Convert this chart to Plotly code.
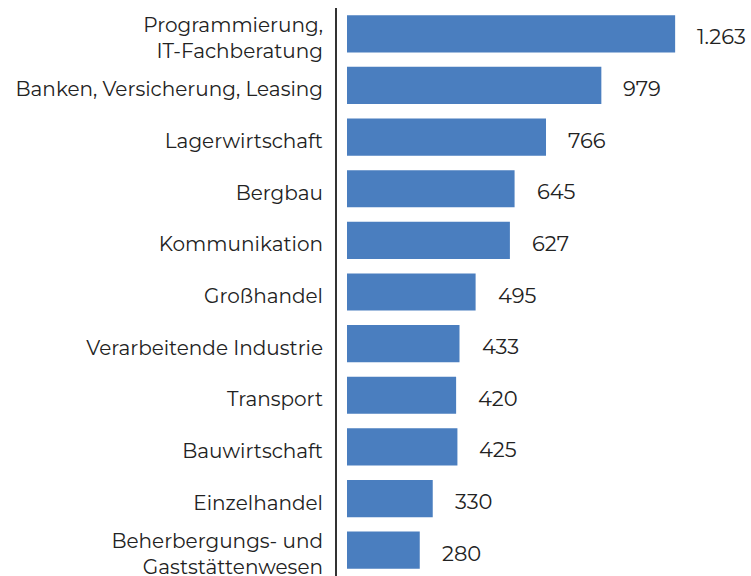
import plotly.graph_objects as go

categories = [
    "Programmierung,<br>IT-Fachberatung",
    "Banken, Versicherung, Leasing",
    "Lagerwirtschaft",
    "Bergbau",
    "Kommunikation",
    "Großhandel",
    "Verarbeitende Industrie",
    "Transport",
    "Bauwirtschaft",
    "Einzelhandel",
    "Beherbergungs- und<br>Gaststättenwesen",
]
values = [1263, 979, 766, 645, 627, 495, 433, 420, 425, 330, 280]

font_family = "Montserrat, Inter, Open Sans, sans-serif"
text_color = "#222222"


def de_format(v):
    return f"{v:,}".replace(",", ".")


fig = go.Figure(
    go.Bar(
        x=values,
        y=categories,
        orientation="h",
        marker=dict(color="#4a7ebf", line=dict(width=0)),
        hoverinfo="skip",
    )
)

for cat, val in zip(categories, values):
    fig.add_annotation(
        x=val, y=cat, text=de_format(val), showarrow=False,
        xanchor="left", xshift=20, yshift=-3,
        font=dict(family=font_family, size=21, color=text_color),
    )

fig.update_layout(
    width=751, height=576,
    margin=dict(l=337, r=0, t=8, b=0),
    paper_bgcolor="white", plot_bgcolor="white",
    bargap=0.28,
    showlegend=False,
    separators=",.",
    font=dict(family=font_family, size=20, color=text_color),
)
fig.update_xaxes(range=[-38.5, 1555], visible=False, showgrid=False,
                 zeroline=False, automargin=False)
fig.update_yaxes(
    autorange="reversed", automargin=False,
    showline=True, linecolor="#333333", linewidth=2,
    showgrid=False, ticks="", ticklabelstandoff=8, ticklabelshift=-4,
    tickfont=dict(family=font_family, size=20, color=text_color),
)

fig.write_html("out.html")
